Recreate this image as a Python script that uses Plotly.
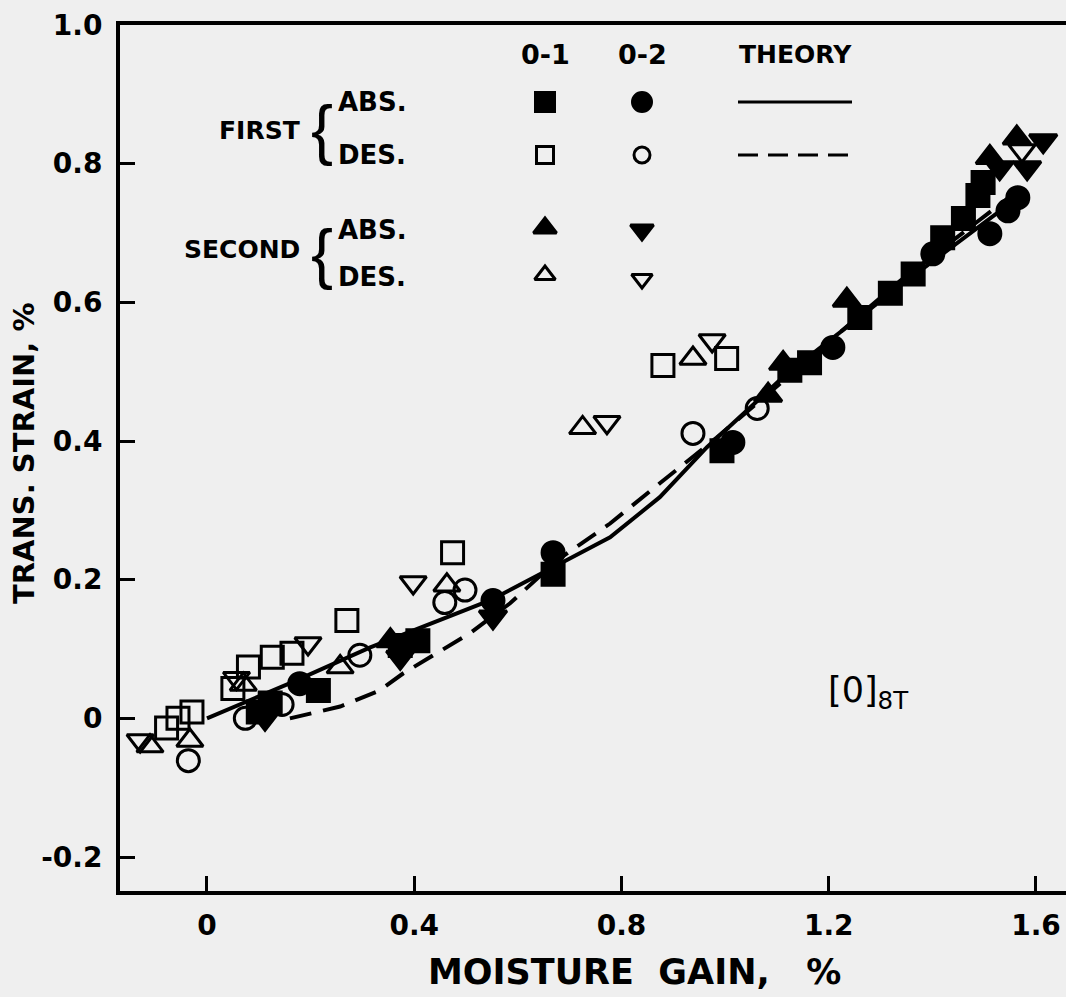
"""Transverse strain vs. moisture gain, [0]8T laminate: specimens 0-1 and 0-2,
first/second absorption and desorption cycles, with theory curves."""
import plotly.graph_objects as go

# ---------------------------------------------------------------------------
# Data (moisture gain %, transverse strain %)
# ---------------------------------------------------------------------------
# 0-1, first absorption (filled square)
s01_abs1_x = [0.099, 0.122, 0.215, 0.373, 0.407, 0.668, 0.994, 1.125, 1.163, 1.260,
              1.319, 1.363, 1.420, 1.460, 1.488, 1.498]
s01_abs1_y = [0.009, 0.022, 0.040, 0.105, 0.112, 0.208, 0.386, 0.502, 0.513, 0.578,
              0.613, 0.641, 0.693, 0.721, 0.754, 0.773]
# 0-1, first desorption (open square)
s01_des1_x = [-0.078, -0.056, -0.029, 0.050, 0.080, 0.126, 0.164, 0.270, 0.474, 0.880, 1.003]
s01_des1_y = [-0.014, 0.000, 0.009, 0.043, 0.074, 0.088, 0.094, 0.141, 0.239, 0.509, 0.519]
# 0-2, first absorption (filled circle)
s02_abs1_x = [0.179, 0.552, 0.668, 1.015, 1.208, 1.401, 1.511, 1.546, 1.565]
s02_abs1_y = [0.050, 0.170, 0.239, 0.398, 0.535, 0.670, 0.699, 0.732, 0.751]
# 0-2, first desorption (open circle)
s02_des1_x = [-0.036, 0.074, 0.145, 0.295, 0.459, 0.498, 0.938, 1.062]
s02_des1_y = [-0.061, 0.000, 0.020, 0.091, 0.167, 0.185, 0.411, 0.447]
# 0-1, second absorption (filled triangle up)
s01_abs2_x = [0.354, 1.083, 1.112, 1.235, 1.511, 1.563]
s01_abs2_y = [0.112, 0.466, 0.512, 0.603, 0.809, 0.837]
# 0-1, second desorption (open triangle up)
s01_des2_x = [-0.110, -0.033, 0.070, 0.257, 0.463, 0.725, 0.938]
s01_des2_y = [-0.040, -0.032, 0.049, 0.074, 0.192, 0.419, 0.519]
# 0-2, second absorption (filled triangle down)
s02_abs2_x = [0.112, 0.373, 0.552, 1.530, 1.583, 1.614]
s02_abs2_y = [0.000, 0.088, 0.146, 0.794, 0.794, 0.833]
# 0-2, second desorption (open triangle down)
s02_des2_x = [-0.129, 0.057, 0.195, 0.398, 0.772, 0.975, 1.573]
s02_des2_y = [-0.032, 0.058, 0.108, 0.196, 0.427, 0.545, 0.819]

# Theory curves
theory_abs_x = [0.000, 0.164, 0.314, 0.546, 0.681, 0.778, 0.874, 0.965, 1.119, 1.338, 1.565]
theory_abs_y = [0.000, 0.052, 0.102, 0.170, 0.223, 0.261, 0.319, 0.391, 0.497, 0.624, 0.751]
theory_des_x = [0.160, 0.257, 0.333, 0.379, 0.508, 0.585, 0.676, 0.778, 0.874, 0.984, 1.338, 1.565]
theory_des_y = [0.000, 0.017, 0.040, 0.065, 0.123, 0.166, 0.228, 0.281, 0.339, 0.405, 0.631, 0.761]

x_ticks = [0, 0.4, 0.8, 1.2, 1.6]
x_tick_labels = ["0", "0.4", "0.8", "1.2", "1.6"]
y_ticks = [-0.2, 0, 0.2, 0.4, 0.6, 0.8, 1.0]
y_tick_labels = ["-0.2", "0", "0.2", "0.4", "0.6", "0.8", "1.0"]

# ---------------------------------------------------------------------------
# Layout helpers
# ---------------------------------------------------------------------------
W, H = 1066, 997
L, R, T, B = 120, 0, 25, 106
BG = "#efefef"
FONT = "DejaVu Sans"


def px(xp):
    return (xp - L) / (W - L - R)


def py(yp):
    return (H - B - yp) / (H - T - B)


fig = go.Figure()

# theory lines
fig.add_trace(go.Scatter(x=theory_abs_x, y=theory_abs_y, mode="lines",
                         line=dict(color="black", width=4)))
fig.add_trace(go.Scatter(x=theory_des_x, y=theory_des_y, mode="lines",
                         line=dict(color="black", width=4, dash="22px,12px")))

series = [
    (s01_des1_x, s01_des1_y, "square-open", 22),
    (s02_des1_x, s02_des1_y, "circle-open", 22),
    (s01_des2_x, s01_des2_y, "triangle-up-open", 23),
    (s02_des2_x, s02_des2_y, "triangle-down-open", 23),
    (s01_abs1_x, s01_abs1_y, "square", 22),
    (s02_abs1_x, s02_abs1_y, "circle", 22),
    (s01_abs2_x, s01_abs2_y, "triangle-up", 24),
    (s02_abs2_x, s02_abs2_y, "triangle-down", 24),
]
for xs, ys, sym, size in series:
    fig.add_trace(go.Scatter(
        x=xs, y=ys, mode="markers",
        marker=dict(symbol=sym, size=size, color="black",
                    line=dict(color="black", width=3)),
    ))

# ---------------------------------------------------------------------------
# Hand-drawn style legend table (overlay axes in paper fractions)
# ---------------------------------------------------------------------------
leg_marks = [
    (545, 102, "square", 19), (642, 102, "circle", 19),
    (545, 155, "square-open", 17), (642, 155, "circle-open", 16),
    (545, 228, "triangle-up", 20), (642, 230, "triangle-down", 20),
    (545, 275, "triangle-up-open", 18), (642, 279, "triangle-down-open", 18),
]
for xp, yp, sym, size in leg_marks:
    fig.add_trace(go.Scatter(
        x=[px(xp)], y=[py(yp)], xaxis="x2", yaxis="y2", mode="markers",
        marker=dict(symbol=sym, size=size, color="black",
                    line=dict(color="black", width=3)),
    ))
fig.add_trace(go.Scatter(x=(px(738), px(852)), y=(py(102), py(102)), xaxis="x2", yaxis="y2",
                         mode="lines", line=dict(color="black", width=3)))
fig.add_trace(go.Scatter(x=(px(738), px(852)), y=(py(155), py(155)), xaxis="x2", yaxis="y2",
                         mode="lines", line=dict(color="black", width=3, dash="20px,10px")))

txt = [
    ("0-1", 545, 55, "center", 27), ("0-2", 642, 55, "center", 27),
    ("THEORY", 795, 55, "center", 25),
    ("FIRST", 302, 130, "right", 25), ("ABS.", 336, 102, "left", 26), ("DES.", 336, 155, "left", 26),
    ("SECOND", 302, 250, "right", 25), ("ABS.", 336, 230, "left", 26), ("DES.", 336, 277, "left", 26),
]
for t, xp, yp, al, fs in txt:
    fig.add_annotation(text=t, x=px(xp), y=py(yp), xref="paper", yref="paper",
                       xanchor=al, yanchor="middle", showarrow=False,
                       font=dict(family=FONT, size=fs, color="black", weight="bold"))
for yp in (129, 253):
    fig.add_annotation(text="{", x=px(322), y=py(yp), xref="paper", yref="paper",
                       xanchor="center", yanchor="middle", showarrow=False,
                       font=dict(family="Liberation Sans", size=66, color="black"))

fig.add_annotation(text="[0]<sub>8T</sub>", x=px(826), y=py(692), xref="paper", yref="paper",
                   xanchor="left", yanchor="middle", showarrow=False,
                   font=dict(family=FONT, size=35, color="black"))

# axis titles
fig.add_annotation(text="TRANS. STRAIN, %", x=px(24), y=py(453), xref="paper", yref="paper",
                   textangle=-90, showarrow=False, xanchor="center", yanchor="middle",
                   font=dict(family=FONT, size=29, color="black", weight="bold"))
fig.add_annotation(text="MOISTURE\u00a0\u00a0GAIN,\u00a0\u00a0\u00a0%", x=px(634), y=py(972),
                   xref="paper", yref="paper",
                   showarrow=False, xanchor="center", yanchor="middle",
                   font=dict(family=FONT, size=35, color="black", weight="bold"))

tickfont = dict(family=FONT, size=28, color="black", weight="bold")
fig.update_layout(
    width=W, height=H,
    margin=dict(l=L, r=R, t=T, b=B, pad=0),
    paper_bgcolor=BG, plot_bgcolor=BG,
    showlegend=False,
    xaxis=dict(range=[-0.1679, 1.658], tickvals=x_ticks, ticktext=x_tick_labels,
               ticks="inside", ticklen=15, tickwidth=3, tickcolor="black",
               showline=True, mirror=True, linewidth=4, linecolor="black",
               showgrid=False, zeroline=False, tickfont=tickfont, ticklabelstandoff=6,
               ticklabeloverflow="allow"),
    yaxis=dict(range=[-0.249, 1.0], tickvals=y_ticks, ticktext=y_tick_labels,
               ticks="inside", ticklen=15, tickwidth=3, tickcolor="black",
               showline=True, mirror=False, linewidth=4, linecolor="black",
               showgrid=False, zeroline=False, tickfont=tickfont, ticklabelstandoff=8,
               ticklabeloverflow="allow"),
    xaxis2=dict(overlaying="x", range=[0, 1], visible=False),
    yaxis2=dict(overlaying="y", range=[0, 1], visible=False),
)

fig.write_html("out.html", config={"displayModeBar": False},
               post_script="document.body.style.margin='0';document.body.style.overflow='hidden';")
